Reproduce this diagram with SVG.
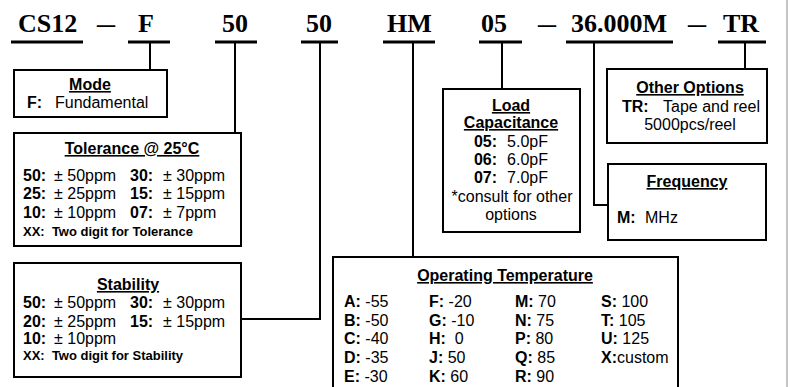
<svg xmlns="http://www.w3.org/2000/svg" width="790" height="387" viewBox="0 0 790 387">
<style>
.code{font-family:"Liberation Serif","Times New Roman",serif;font-weight:bold;font-size:26px;fill:#000}
.ul{stroke:#000;stroke-width:3}
.box{fill:#fff;stroke:#000;stroke-width:2}
.t{font-family:"Liberation Sans",Arial,sans-serif;font-size:16px;fill:#000}
.h{font-weight:bold;text-decoration:underline}
.b{font-weight:bold}
.s{font-family:"Liberation Sans",Arial,sans-serif;font-size:13px;font-weight:bold;fill:#000}
.m{text-anchor:middle}
.con{fill:none;stroke:#000;stroke-width:2}
</style>
<rect x="0" y="0" width="790" height="387" fill="#fff"/>
<rect x="786" y="0" width="2" height="387" fill="#c4c4c4"/>

<g id="code">
<text class="code" x="18" y="32">CS12</text>
<text class="code" x="97" y="32" textLength="18" lengthAdjust="spacingAndGlyphs">–</text>
<text class="code" x="138" y="32">F</text>
<text class="code" x="222" y="32">50</text>
<text class="code" x="306" y="32">50</text>
<text class="code" x="387" y="32">HM</text>
<text class="code" x="481" y="32">05</text>
<text class="code" x="538" y="32" textLength="18" lengthAdjust="spacingAndGlyphs">–</text>
<text class="code" x="571" y="32">36.000M</text>
<text class="code" x="688" y="32" textLength="18" lengthAdjust="spacingAndGlyphs">–</text>
<text class="code" x="723" y="32">TR</text>
<line class="ul" x1="11" y1="42" x2="83" y2="42"/>
<line class="ul" x1="128" y1="42" x2="170" y2="42"/>
<line class="ul" x1="215" y1="42" x2="257" y2="42"/>
<line class="ul" x1="301" y1="42" x2="338" y2="42"/>
<line class="ul" x1="383" y1="42" x2="435" y2="42"/>
<line class="ul" x1="479" y1="42" x2="522" y2="42"/>
<line class="ul" x1="566" y1="42" x2="673" y2="42"/>
<line class="ul" x1="718" y1="42" x2="766" y2="42"/>
</g>

<g id="connectors">
<polyline class="con" points="150,43 150,69"/>
<polyline class="con" points="235,43 235,133"/>
<polyline class="con" points="320,43 320,319 241,319"/>
<polyline class="con" points="413,43 413,257"/>
<polyline class="con" points="502,43 502,89"/>
<polyline class="con" points="594,43 594,205 608,205"/>
<polyline class="con" points="745,43 745,69"/>
</g>

<g id="mode">
<rect class="box" x="14" y="70" width="153" height="47"/>
<text class="t h m" x="90" y="90">Mode</text>
<text class="t b" x="27" y="108">F:</text>
<text class="t" x="55" y="108">Fundamental</text>
</g>

<g id="tolerance">
<rect class="box" x="14" y="133" width="227" height="113"/>
<text class="t h m" x="132" y="154">Tolerance @ 25°C</text>
<text class="t b" x="23" y="181">50:</text><text class="t" x="54" y="181">± 50ppm</text>
<text class="t b" x="130" y="181">30:</text><text class="t" x="163" y="181">± 30ppm</text>
<text class="t b" x="23" y="199">25:</text><text class="t" x="54" y="199">± 25ppm</text>
<text class="t b" x="130" y="199">15:</text><text class="t" x="163" y="199">± 15ppm</text>
<text class="t b" x="23" y="218">10:</text><text class="t" x="54" y="218">± 10ppm</text>
<text class="t b" x="130" y="218">07:</text><text class="t" x="163" y="218">± 7ppm</text>
<text class="s" x="23" y="236">XX:&#160; Two digit for Tolerance</text>
</g>

<g id="stability">
<rect class="box" x="14" y="263" width="227" height="114"/>
<text class="t h m" x="128" y="290">Stability</text>
<text class="t b" x="23" y="308">50:</text><text class="t" x="54" y="308">± 50ppm</text>
<text class="t b" x="130" y="308">30:</text><text class="t" x="163" y="308">± 30ppm</text>
<text class="t b" x="23" y="327">20:</text><text class="t" x="54" y="327">± 25ppm</text>
<text class="t b" x="130" y="327">15:</text><text class="t" x="163" y="327">± 15ppm</text>
<text class="t b" x="23" y="344">10:</text><text class="t" x="54" y="344">± 10ppm</text>
<text class="s" x="23" y="360">XX:&#160; Two digit for Stability</text>
</g>

<g id="load-capacitance">
<rect class="box" x="443" y="89" width="137" height="143"/>
<text class="t h m" x="511" y="111">Load</text>
<text class="t h m" x="511" y="128">Capacitance</text>
<text class="t m" x="511" y="147"><tspan class="b">05:</tspan><tspan dx="10">5.0pF</tspan></text>
<text class="t m" x="511" y="165"><tspan class="b">06:</tspan><tspan dx="10">6.0pF</tspan></text>
<text class="t m" x="511" y="183"><tspan class="b">07:</tspan><tspan dx="10">7.0pF</tspan></text>
<text class="t m" x="512" y="202">*consult for other</text>
<text class="t m" x="511" y="220">options</text>
</g>

<g id="operating-temperature">
<rect class="box" x="333" y="257" width="345" height="140"/>
<text class="t h m" x="505" y="281">Operating Temperature</text>
<text class="t" x="344" y="307"><tspan class="b">A:</tspan> -55</text>
<text class="t" x="344" y="326"><tspan class="b">B:</tspan> -50</text>
<text class="t" x="344" y="344"><tspan class="b">C:</tspan> -40</text>
<text class="t" x="344" y="363"><tspan class="b">D:</tspan> -35</text>
<text class="t" x="344" y="382"><tspan class="b">E:</tspan> -30</text>
<text class="t" x="429" y="307"><tspan class="b">F:</tspan> -20</text>
<text class="t" x="429" y="326"><tspan class="b">G:</tspan> -10</text>
<text class="t" x="429" y="344"><tspan class="b">H:</tspan>&#160; 0</text>
<text class="t" x="429" y="363"><tspan class="b">J:</tspan> 50</text>
<text class="t" x="429" y="382"><tspan class="b">K:</tspan> 60</text>
<text class="t" x="515" y="307"><tspan class="b">M:</tspan> 70</text>
<text class="t" x="515" y="326"><tspan class="b">N:</tspan> 75</text>
<text class="t" x="515" y="344"><tspan class="b">P:</tspan> 80</text>
<text class="t" x="515" y="363"><tspan class="b">Q:</tspan> 85</text>
<text class="t" x="515" y="382"><tspan class="b">R:</tspan> 90</text>
<text class="t" x="601" y="307"><tspan class="b">S:</tspan> 100</text>
<text class="t" x="601" y="326"><tspan class="b">T:</tspan> 105</text>
<text class="t" x="601" y="344"><tspan class="b">U:</tspan> 125</text>
<text class="t" x="601" y="363"><tspan class="b">X:</tspan>custom</text>
</g>

<g id="frequency">
<rect class="box" x="608" y="164" width="158" height="76"/>
<text class="t h m" x="687" y="187">Frequency</text>
<text class="t b" x="617" y="223">M:</text>
<text class="t" x="645" y="223">MHz</text>
</g>

<g id="other-options">
<rect class="box" x="607" y="69" width="160" height="74"/>
<text class="t h m" x="690" y="93">Other Options</text>
<text class="t b" x="622" y="112">TR:</text>
<text class="t" x="663" y="112">Tape and reel</text>
<text class="t m" x="690" y="130">5000pcs/reel</text>
</g>
</svg>
